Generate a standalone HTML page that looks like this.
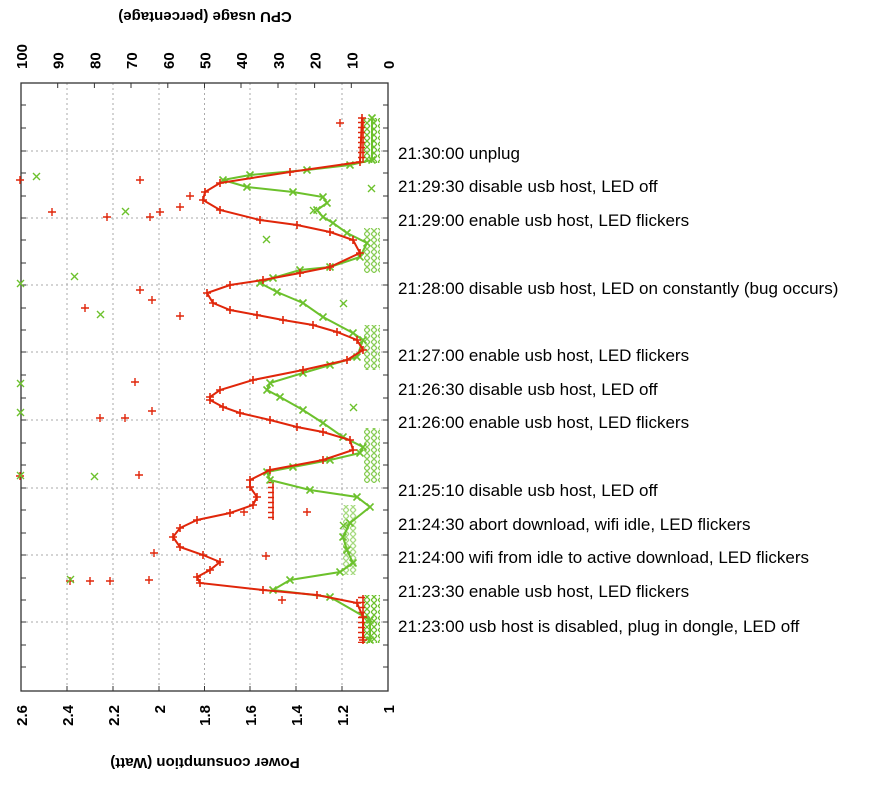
<!DOCTYPE html>
<html><head><meta charset="utf-8"><style>
body{margin:0;background:#fff;width:894px;height:792px;overflow:hidden}
svg{font-family:"Liberation Sans",sans-serif}
</style></head><body>
<svg width="894" height="792" viewBox="0 0 894 792" xmlns="http://www.w3.org/2000/svg">
<defs>
<marker id="p" viewBox="-5 -5 10 10" markerWidth="10" markerHeight="10" markerUnits="userSpaceOnUse"><path d="M-4 0H4M0 -4V4" stroke="#e0260a" stroke-width="1.6"/></marker>
<marker id="x" viewBox="-5 -5 10 10" markerWidth="10" markerHeight="10" markerUnits="userSpaceOnUse"><path d="M-3.5 -3.5L3.5 3.5M-3.5 3.5L3.5 -3.5" stroke="#6cc12c" stroke-width="1.6"/></marker>
<pattern id="gx" width="7" height="6" patternUnits="userSpaceOnUse"><path d="M0 0L6 6M0 6L6 0" stroke="#6cc12c" stroke-width="1.3"/></pattern>
<pattern id="rp" width="6" height="5" patternUnits="userSpaceOnUse"><path d="M0 2.5H6M3 0V5" stroke="#e0260a" stroke-width="1.6"/></pattern>
</defs>
<!-- grid -->
<g stroke="#aaa" stroke-dasharray="2,3" stroke-width="1">
<path d="M67 83V691M113 83V691M159 83V691M204.5 83V691M250 83V691M296 83V691M342 83V691"/>
<path d="M21 151H388M21 218H388M21 285H388M21 352H388M21 420H388M21 488H388M21 555H388M21 622H388"/>
</g>
<!-- ticks -->
<g stroke="#333" stroke-width="1">
<path d="M57.7 83v5M94.4 83v5M131 83v5M167.8 83v5M204.5 83v5M241 83v5M278 83v5M314.6 83v5M351.3 83v5"/>
<path d="M67 691v-5M113 691v-5M159 691v-5M204.5 691v-5M250 691v-5M296 691v-5M342 691v-5"/>
<path d="M388 105h-5M388 128h-5M388 151h-5M388 173h-5M388 196h-5M388 218h-5M388 240h-5M388 263h-5M388 285h-5M388 308h-5M388 330h-5M388 352h-5M388 375h-5M388 398h-5M388 420h-5M388 443h-5M388 465h-5M388 488h-5M388 510h-5M388 533h-5M388 555h-5M388 578h-5M388 600h-5M388 622h-5M388 645h-5M388 667h-5"/>
<path d="M21 105h5M21 128h5M21 151h5M21 173h5M21 196h5M21 218h5M21 240h5M21 263h5M21 285h5M21 308h5M21 330h5M21 352h5M21 375h5M21 398h5M21 420h5M21 443h5M21 465h5M21 488h5M21 510h5M21 533h5M21 555h5M21 578h5M21 600h5M21 622h5M21 645h5M21 667h5"/>
</g>
<rect x="21" y="83" width="367" height="608" fill="none" stroke="#333" stroke-width="1.3"/>
<!-- dense clusters -->
<rect x="364" y="118" width="16" height="45" fill="url(#gx)"/>
<rect x="358" y="118" width="7" height="45" fill="url(#rp)"/>
<rect x="364" y="228" width="16" height="45" fill="url(#gx)" opacity="0.8"/>
<rect x="364" y="325" width="16" height="45" fill="url(#gx)" opacity="0.8"/>
<rect x="364" y="428" width="16" height="55" fill="url(#gx)" opacity="0.8"/>
<rect x="343" y="505" width="14" height="70" fill="url(#gx)" opacity="0.6"/>
<rect x="364" y="595" width="16" height="48" fill="url(#gx)"/>
<rect x="358" y="595" width="7" height="48" fill="url(#rp)"/>
<rect x="268" y="482" width="6" height="38" fill="url(#rp)"/>
<!-- green CPU series -->
<polyline fill="none" stroke="#6cc12c" stroke-width="2" marker-mid="url(#x)" marker-start="url(#x)" marker-end="url(#x)" points="370,640 370,620 330,597 273,590 290,580 340,572 353,563 347,550 343,537 350,523 370,507 357,497 310,490 270,480 267,472 293,467 330,460 360,453 363,447 343,437 323,423 303,410 280,397 267,390 270,383 303,373 330,365 357,357 363,340 353,333 323,317 303,303 277,292 260,283 273,278 300,270 330,267 360,257 367,243 347,233 333,223 323,217 317,210 327,203 323,197 293,192 247,187 223,180 250,175 307,170 350,165 372,160 372,118"/>
<!-- red power series -->
<polyline fill="none" stroke="#e0260a" stroke-width="2" marker-mid="url(#p)" marker-start="url(#p)" marker-end="url(#p)" points="363,640 363,617 357,603 317,595 263,590 200,583 197,577 210,570 220,562 203,555 180,547 173,537 180,528 197,520 230,513 253,505 257,497 250,487 250,480 270,470 323,460 353,450 350,440 323,432 297,427 270,420 240,413 223,407 210,400 210,397 220,390 253,380 303,370 347,360 363,350 357,340 337,332 313,325 283,320 257,315 230,310 213,303 207,293 230,285 263,280 300,273 330,267 360,253 353,240 330,232 297,225 260,220 220,210 203,200 205,192 220,183 290,172 360,162 362,118"/>
<!-- scattered outliers -->
<g fill="none">
<path stroke="#e0260a" stroke-width="1.4" d="M48 212h8M52 208v8M103 217h8M107 213v8M146 217h8M150 213v8M156 212h8M160 208v8M176 207h8M180 203v8M186 196h8M190 192v8M136 180h8M140 176v8M136 290h8M140 286v8M81 308h8M85 304v8M148 300h8M152 296v8M176 316h8M180 312v8M96 418h8M100 414v8M121 418h8M125 414v8M148 411h8M152 407v8M131 382h8M135 378v8M135 475h8M139 471v8M66 581h8M70 577v8M86 581h8M90 577v8M106 581h8M110 577v8M145 580h8M149 576v8M150 553h8M154 549v8M240 512h8M244 508v8M262 556h8M266 552v8M278 600h8M282 596v8M303 512h8M307 508v8M16 180h8M20 176v8M16 476h8M20 472v8M336 123h8M340 119v8"/>
<path stroke="#6cc12c" stroke-width="1.4" d="M33 173l7 7M33 180l7 -7M17 280l7 7M17 287l7 -7M71 273l7 7M71 280l7 -7M17 380l7 7M17 387l7 -7M17 409l7 7M17 416l7 -7M17 472l7 7M17 479l7 -7M122 208l7 7M122 215l7 -7M97 311l7 7M97 318l7 -7M91 473l7 7M91 480l7 -7M67 576l7 7M67 583l7 -7M310 207l7 7M310 214l7 -7M263 236l7 7M263 243l7 -7M340 300l7 7M340 307l7 -7M350 404l7 7M350 411l7 -7M340 522l7 7M340 529l7 -7M368 185l7 7M368 192l7 -7"/>
</g>
<!-- tick labels -->
<g font-size="15" font-weight="bold" fill="#000">
<g text-anchor="end">
<text transform="translate(27,705) rotate(-90)">2.6</text>
<text transform="translate(73,705) rotate(-90)">2.4</text>
<text transform="translate(119,705) rotate(-90)">2.2</text>
<text transform="translate(165,705) rotate(-90)">2</text>
<text transform="translate(210,705) rotate(-90)">1.8</text>
<text transform="translate(256,705) rotate(-90)">1.6</text>
<text transform="translate(302,705) rotate(-90)">1.4</text>
<text transform="translate(348,705) rotate(-90)">1.2</text>
<text transform="translate(394,705) rotate(-90)">1</text>
</g>
<g text-anchor="start">
<text transform="translate(27,69) rotate(-90)">100</text>
<text transform="translate(63.7,69) rotate(-90)">90</text>
<text transform="translate(100.4,69) rotate(-90)">80</text>
<text transform="translate(137,69) rotate(-90)">70</text>
<text transform="translate(173.8,69) rotate(-90)">60</text>
<text transform="translate(210.5,69) rotate(-90)">50</text>
<text transform="translate(247,69) rotate(-90)">40</text>
<text transform="translate(284,69) rotate(-90)">30</text>
<text transform="translate(320.6,69) rotate(-90)">20</text>
<text transform="translate(357.3,69) rotate(-90)">10</text>
<text transform="translate(394,69) rotate(-90)">0</text>
</g>
<text transform="translate(205,12) rotate(180)" text-anchor="middle">CPU usage (percentage)</text>
<text transform="translate(205,758) rotate(180)" text-anchor="middle">Power consumption (Watt)</text>
</g>
<!-- event labels -->
<g font-size="17" fill="#000">
<text x="398" y="159">21:30:00 unplug</text>
<text x="398" y="192">21:29:30 disable usb host, LED off</text>
<text x="398" y="226">21:29:00 enable usb host, LED flickers</text>
<text x="398" y="294">21:28:00 disable usb host, LED on constantly (bug occurs)</text>
<text x="398" y="361">21:27:00 enable usb host, LED flickers</text>
<text x="398" y="395">21:26:30 disable usb host, LED off</text>
<text x="398" y="428">21:26:00 enable usb host, LED flickers</text>
<text x="398" y="496">21:25:10 disable usb host, LED off</text>
<text x="398" y="530">21:24:30 abort download, wifi idle, LED flickers</text>
<text x="398" y="563">21:24:00 wifi from idle to active download, LED flickers</text>
<text x="398" y="597">21:23:30 enable usb host, LED flickers</text>
<text x="398" y="632">21:23:00 usb host is disabled, plug in dongle, LED off</text>
</g>
</svg>
</body></html>
